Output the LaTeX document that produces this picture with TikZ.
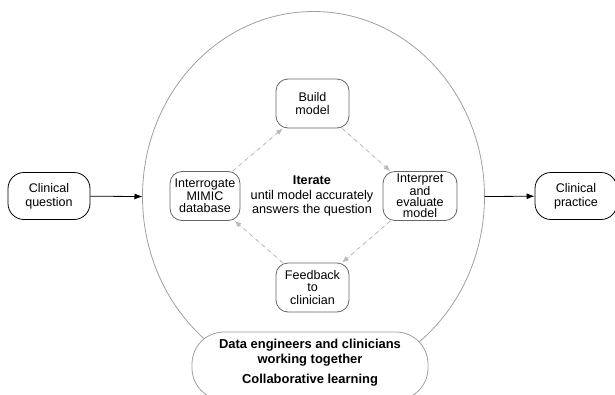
\documentclass[tikz,border=0pt]{standalone}
\usepackage{fontspec}
\setmainfont{Liberation Sans}
\usetikzlibrary{arrows.meta,shapes.geometric}
\tikzset{
  step box/.style={draw=gray!80!black, rounded corners=9pt, align=center, inner sep=1pt,
    minimum height=36.75pt, font=\fontsize{9.4}{9.5}\selectfont},
  end box/.style={draw, rounded corners=12pt, align=center, inner sep=1pt,
    minimum width=61.5pt, minimum height=35.25pt, font=\fontsize{9.4}{10.2}\selectfont},
  loop arrow/.style={draw=gray!55, dashed, -{Latex[length=5pt,width=4pt]}, fill=gray!55}
}

\begin{document}
\begin{tikzpicture}[x=0.75pt, y=-0.75pt, line width=0.6pt]
\useasboundingbox (0,0) rectangle (615,394);
\node[ellipse, draw=gray!75, inner sep=0pt, outer sep=0pt,
  minimum width=256.5pt, minimum height=277.5pt] (circle) at (313.5,196.5) {};
\node[end box] (question) at (49,196) {Clinical\\question};
\node[end box] (practice) at (576,196) {Clinical\\practice};
\node[step box, minimum width=54.75pt] (build) at (312.5,103.5) {Build\\model};
\node[step box, minimum width=52.5pt] (mimic) at (205,196) {Interrogate\\MIMIC\\database};
\node[step box, minimum width=55.5pt, font=\fontsize{9.4}{8.4}\selectfont] (interpret) at (420,196)
  {Interpret\\and\\evaluate\\model};
\node[step box, minimum width=54.75pt] (feedback) at (312.5,287.5) {Feedback\\to\\clinician};
\node[align=center, font=\fontsize{9.5}{10.9}\selectfont] (iterate) at (312,196)
  {\textbf{Iterate}\\until model accurately\\answers the question};
% bottom box
\node[draw=gray!75, fill=white, rounded corners=24pt,
  minimum width=177pt, minimum height=51pt] (teambox) at (310,366) {};
\node[align=center, font=\bfseries\fontsize{9.7}{11.2}\selectfont]
  (team) at (310,363) {Data engineers and clinicians\\working together\\[4pt]Collaborative learning};
% arrows
\draw[-{Latex[length=6pt,width=4.5pt]}] (question) -- (circle.west);
\draw[-{Latex[length=6pt,width=4.5pt]}] (circle.east) -- (practice);
\draw[loop arrow] (mimic.42) -- (build.220);
\draw[loop arrow] (build.320) -- (interpret.140);
\draw[loop arrow] (interpret.220) -- (feedback.40);
\draw[loop arrow] (feedback.140) -- (mimic.320);
\end{tikzpicture}
\end{document}
